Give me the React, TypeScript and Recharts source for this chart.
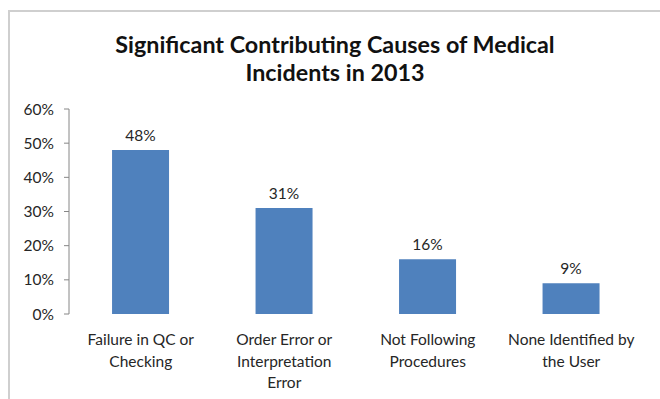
import React from 'react';
import { BarChart, Bar, XAxis, YAxis, LabelList } from 'recharts';

const categories = ['Failure in QC or Checking', 'Order Error or Interpretation Error', 'Not Following Procedures', 'None Identified by the User'];
const categoryLines = [
  ['Failure in QC or', 'Checking'],
  ['Order Error or', 'Interpretation', 'Error'],
  ['Not Following', 'Procedures'],
  ['None Identified by', 'the User'],
];
const values = [48, 31, 16, 9];
const yTicks = [0, 10, 20, 30, 40, 50, 60];
const boundaryTicks = [0, 1, 2, 3, 4];
const titleLines = ['Significant Contributing Causes of Medical', 'Incidents in 2013'];

const data = categories.map((c, i) => ({ name: c, idx: i, value: values[i] }));

const FONT = 'Lato, "Open Sans", sans-serif';

const CatTick = (props: any) => {
  const { x, y, index } = props;
  const lines = categoryLines[index] || [];
  return (
    <g>
      {lines.map((l, i) => (
        <text key={i} x={x} y={y + 23 + i * 21.5} textAnchor="middle" fontSize={15.5} fill="#262626" fontFamily={FONT}>
          {l}
        </text>
      ))}
    </g>
  );
};

export default function App() {
  return (
    <div style={{ position: 'absolute', left: 0, top: 0, width: 660, height: 399, background: '#fff', overflow: 'hidden' }}>
      <div style={{ position: 'absolute', left: 8, top: 10, width: 700, height: 420, borderLeft: '2px solid #cfcfcf', borderTop: '2px solid #cfcfcf' }} />
      <div style={{ position: 'absolute', left: 0, top: 30, width: 670, textAlign: 'center', fontFamily: FONT, fontWeight: 700, fontSize: 23.3, lineHeight: '28px', color: '#111' }}>
        {titleLines.map((t, i) => (<div key={i}>{t}</div>))}
      </div>
      <div style={{ position: 'absolute', left: 0, top: 0 }}>
        <BarChart width={660} height={399} data={data} margin={{ top: 109, right: 17, left: 0, bottom: 0 }} barCategoryGap="30%">
          <XAxis xAxisId="b" type="number" dataKey="idx" domain={[0, 4]} ticks={boundaryTicks} height={0} tick={false} tickLine={{ stroke: '#868686' }} tickSize={5} axisLine={{ stroke: '#868686' }} allowDataOverflow />
          <XAxis xAxisId="c" dataKey="name" height={85} tick={<CatTick />} tickLine={false} axisLine={false} interval={0} />
          <YAxis width={69} domain={[0, 60]} ticks={yTicks} tickFormatter={(v: number) => `${v}%`} tick={{ fontSize: 15.5, fill: '#262626', fontFamily: FONT, dx: -8 }} tickLine={{ stroke: '#868686' }} tickSize={5} axisLine={{ stroke: '#868686' }} interval={0} />
          <Bar xAxisId="c" dataKey="value" fill="#4F81BD" isAnimationActive={false}>
            <LabelList dataKey="value" position="top" offset={9} formatter={(v: any) => `${v}%`} style={{ fontSize: 15.5, fill: '#262626', fontFamily: FONT }} />
          </Bar>
        </BarChart>
      </div>
    </div>
  );
}
